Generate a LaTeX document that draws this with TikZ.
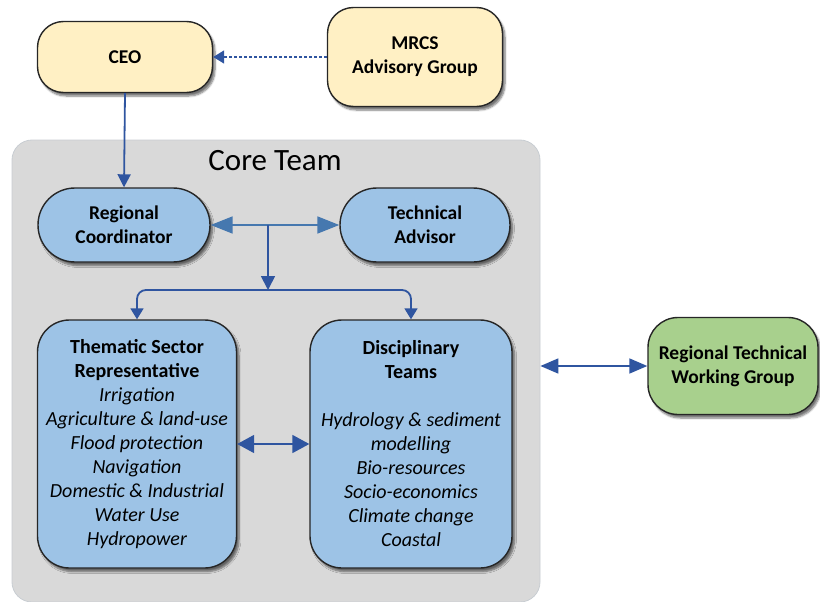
\documentclass[tikz,border=0pt]{standalone}
\usepackage{fontspec}
\setmainfont{Carlito}
\usetikzlibrary{arrows.meta,shadows.blur,calc}
\definecolor{cream}{RGB}{255,240,196}
\definecolor{boxblue}{RGB}{157,195,230}
\definecolor{boxgreen}{RGB}{168,208,141}
\definecolor{coregray}{RGB}{217,217,217}
\definecolor{coreedge}{RGB}{200,205,210}
\definecolor{arrblue}{RGB}{47,85,160}
\definecolor{steel}{RGB}{70,120,175}
\tikzset{
  base/.style={draw=black!85, line width=1.4pt, align=center, inner sep=2pt,
    blur shadow={shadow xshift=2.5pt, shadow yshift=-3.5pt, shadow blur steps=6, shadow opacity=55}},
  yellowbox/.style={base, fill=cream, rounded corners=26pt, font=\bfseries\fontsize{19.5}{24}\selectfont},
  pillbox/.style={base, fill=boxblue, rounded corners=37pt, minimum width=172pt, minimum height=74pt, font=\bfseries\fontsize{19.5}{24}\selectfont},
  bigbox/.style={base, fill=boxblue, rounded corners=32pt, minimum height=248pt, font=\fontsize{20}{24}\selectfont},
  greenbox/.style={base, fill=boxgreen, rounded corners=30pt, minimum width=170pt, minimum height=97pt, font=\bfseries\fontsize{19.5}{24}\selectfont},
  conn/.style={line width=1.8pt, draw=arrblue},
}
\begin{document}
\begin{tikzpicture}[x=1pt,y=-1pt]
\useasboundingbox (0,0) rectangle (820,602);
% core team container
\node[draw=coreedge, line width=0.8pt, fill=coregray, rounded corners=20pt, minimum width=528pt, minimum height=462pt] (core) at (276,371) {};
\node[font=\fontsize{31}{36}\selectfont] (coretitle) at (275,161) {Core Team};

\node[yellowbox, minimum width=175pt, minimum height=71pt] (ceo) at (125,57) {CEO};
\node[yellowbox, minimum width=175pt, minimum height=99pt] (mrcs) at (415,57) {MRCS\\Advisory Group};

\node[pillbox] (rc) at (124,225) {Regional\\Coordinator};
\node[pillbox, minimum width=170pt] (ta) at (425,225) {Technical\\Advisor};

\node[bigbox, minimum width=199pt] (th) at (137,444) {\textbf{Thematic Sector}\\\textbf{Representative}\\\textit{Irrigation}\\\textit{Agriculture \& land-use}\\\textit{Flood protection}\\\textit{Navigation}\\\textit{Domestic \& Industrial}\\\textit{Water Use}\\\textit{Hydropower}};
\node[bigbox, minimum width=202pt] (dt) at (411,444) {\textbf{Disciplinary}\\\textbf{Teams}\\[24pt]\textit{Hydrology \& sediment}\\\textit{modelling}\\\textit{Bio-resources}\\\textit{Socio-economics}\\\textit{Climate change}\\\textit{Coastal}};

\node[greenbox] (rt) at (733,366) {Regional Technical\\Working Group};

% connectors
\draw[conn, dash pattern=on 3pt off 2pt, -{Triangle[width=13pt,length=11pt]}] (mrcs.west) -- (ceo.east);
\draw[conn, -{Triangle[width=13pt,length=13pt]}] (ceo.south) -- (rc.north);
\coordinate (jn) at (268,225);
\coordinate (fork) at (268,290);
\draw[conn, draw=steel, {Triangle[width=17pt,length=22pt]}-{Triangle[width=17pt,length=22pt]}] (rc.east) -- (ta.west);
\draw[conn, -{Triangle[width=14pt,length=14pt]}] (jn) -- (fork);
\draw[conn, rounded corners=9pt, -{Triangle[width=13pt,length=11pt]}] (fork) -| (th.north);
\draw[conn, rounded corners=9pt, -{Triangle[width=13pt,length=11pt]}] (fork) -| (dt.north);
\draw[conn, {Triangle[width=18pt,length=17pt]}-{Triangle[width=18pt,length=17pt]}] (th.east) -- (dt.west);
\draw[conn, {Triangle[width=15pt,length=18pt]}-{Triangle[width=15pt,length=18pt]}] (core.east |- rt.west) -- (rt.west);
\end{tikzpicture}
\end{document}
